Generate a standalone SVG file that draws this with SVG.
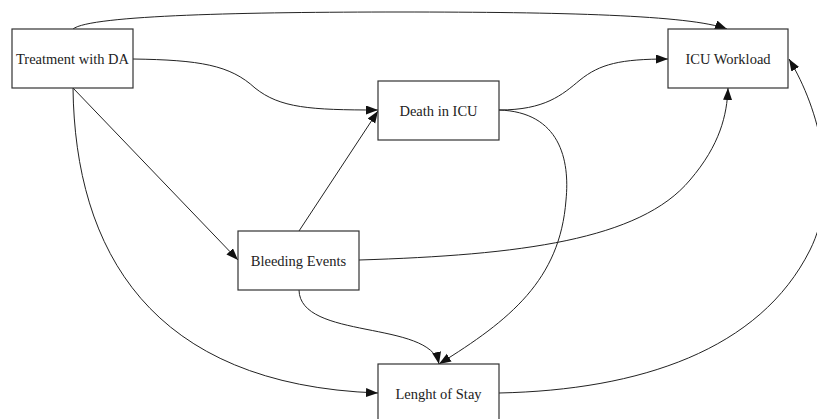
<svg xmlns="http://www.w3.org/2000/svg" width="817" height="419" viewBox="0 0 817 419">
<style>
.box{fill:#fff;stroke:#333;stroke-width:1.2}
.lbl{font-family:"Liberation Serif","Times New Roman",serif;font-size:14.5px;fill:#222;text-anchor:middle}
.edge{fill:none;stroke:#222;stroke-width:1}
</style>
<defs>
<marker id="arr" markerUnits="userSpaceOnUse" markerWidth="13" markerHeight="10" refX="12" refY="4.5" orient="auto">
<path d="M0,0 L12,4.5 L0,9 z" fill="#111"/>
</marker>
</defs>
<rect width="817" height="419" fill="#fff"/>
<g id="connectors">
<path class="edge" marker-end="url(#arr)" d="M73,29 C90,15 250,12 400,12 C560,12 690,15 727,29"/>
<path class="edge" marker-end="url(#arr)" d="M133,59 C200,60 230,65 255,88 C280,108 310,110 378,110"/>
<path class="edge" marker-end="url(#arr)" d="M499,110 C545,110 562,95 580,80 C600,64 620,59 668,59"/>
<path class="edge" marker-end="url(#arr)" d="M499,110 C560,112 570,160 566,200 C560,280 510,320 439,364"/>
<path class="edge" marker-end="url(#arr)" d="M73,88 L238,260"/>
<path class="edge" marker-end="url(#arr)" d="M299,231 L378,111"/>
<path class="edge" marker-end="url(#arr)" d="M359,260 C520,255 640,240 690,180 C720,145 727,115 728,88"/>
<path class="edge" marker-end="url(#arr)" d="M299,290 C300,340 430,320 439,364"/>
<path class="edge" marker-end="url(#arr)" d="M73,88 C75,250 150,385 378,393"/>
<path class="edge" marker-end="url(#arr)" d="M499,393 C640,390 760,350 810,250 C840,190 820,110 789,59"/>
</g>
<g id="treatment">
<rect class="box" x="12" y="29" width="121" height="59"/>
<text class="lbl" x="72.5" y="64">Treatment with DA</text>
</g>
<g id="death">
<rect class="box" x="378" y="81" width="121" height="59"/>
<text class="lbl" x="438.5" y="116">Death in ICU</text>
</g>
<g id="workload">
<rect class="box" x="668" y="29" width="120" height="59"/>
<text class="lbl" x="728" y="64">ICU Workload</text>
</g>
<g id="bleeding">
<rect class="box" x="238" y="231" width="121" height="59"/>
<text class="lbl" x="298.5" y="266">Bleeding Events</text>
</g>
<g id="stay">
<rect class="box" x="378" y="364" width="121" height="59"/>
<text class="lbl" x="438.5" y="399">Lenght of Stay</text>
</g>
</svg>
